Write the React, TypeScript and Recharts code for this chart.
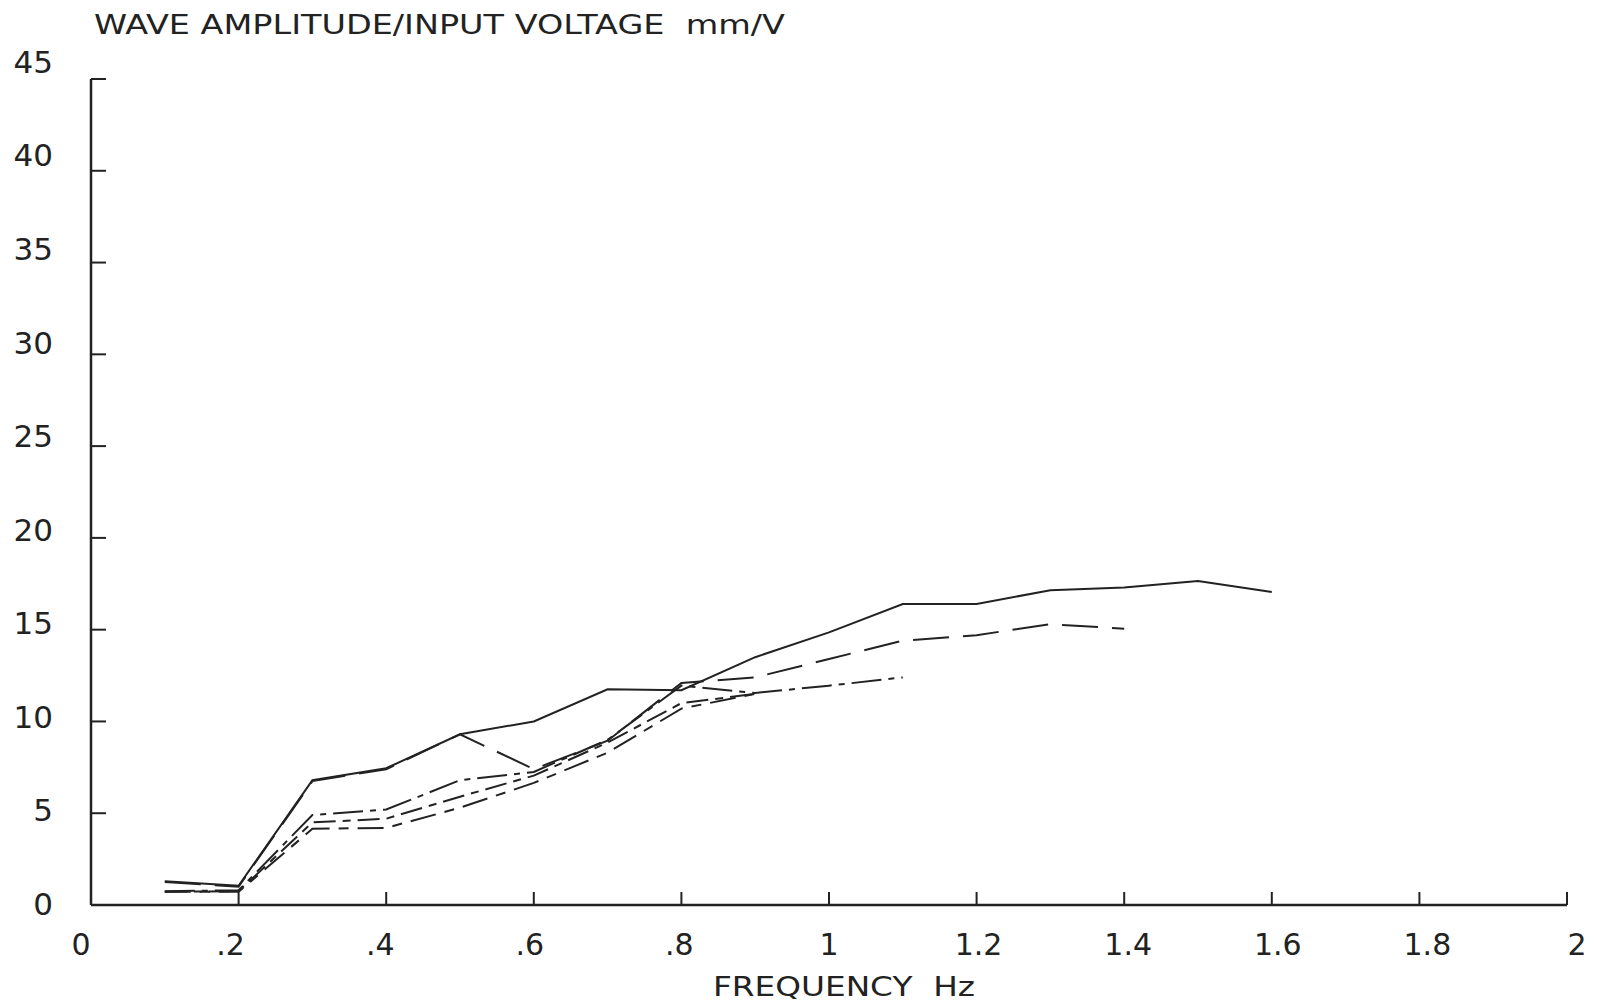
import React from "react";
import { LineChart, Line, XAxis, YAxis } from "recharts";

// Frequency (Hz) sample points
const freqSolid = [0.1, 0.2, 0.3, 0.4, 0.5, 0.6, 0.7, 0.8, 0.9, 1.0, 1.1, 1.2, 1.3, 1.4, 1.5, 1.6];
const ampSolid = [1.3, 1.05, 6.8, 7.45, 9.3, 10.0, 11.75, 11.7, 13.5, 14.85, 16.4, 16.4, 17.15, 17.3, 17.65, 17.05];

const freqLongDash = [0.1, 0.2, 0.3, 0.4, 0.5, 0.6, 0.7, 0.8, 0.9, 1.0, 1.1, 1.2, 1.3, 1.4];
const ampLongDash = [1.25, 1.0, 6.75, 7.4, 9.3, 7.4, 8.95, 12.1, 12.4, 13.4, 14.4, 14.7, 15.3, 15.05];

const freqDashDot = [0.1, 0.2, 0.3, 0.4, 0.5, 0.6, 0.7, 0.8, 0.9, 1.0, 1.1];
const ampDashDot = [0.75, 0.8, 4.9, 5.2, 6.8, 7.25, 9.0, 11.95, 11.55, 11.95, 12.4];

const freqMid = [0.1, 0.2, 0.3, 0.4, 0.5, 0.6, 0.7, 0.8, 0.9];
const ampMid = [0.72, 0.75, 4.5, 4.7, 5.9, 7.05, 8.85, 11.0, 11.5];

const freqLow = [0.1, 0.2, 0.3, 0.4, 0.5, 0.6, 0.7, 0.8, 0.9];
const ampLow = [0.72, 0.72, 4.15, 4.2, 5.3, 6.65, 8.3, 10.7, 11.5];

const xTicks = [0, 0.2, 0.4, 0.6, 0.8, 1.0, 1.2, 1.4, 1.6, 1.8, 2.0];
const xTickLabels = ["0", ".2", ".4", ".6", ".8", "1", "1.2", "1.4", "1.6", "1.8", "2"];
const yTicks = [0, 5, 10, 15, 20, 25, 30, 35, 40, 45];
const yTickLabels = ["0", "5", "10", "15", "20", "25", "30", "35", "40", "45"];

const yTitle = "WAVE AMPLITUDE/INPUT VOLTAGE  mm/V";
const xTitle = "FREQUENCY  Hz";

const toRows = (xs: number[], ys: number[]) => xs.map((f, i) => ({ f, v: ys[i] }));

const INK = "#222";
const FONT = "'DejaVu Sans', 'Liberation Sans', sans-serif";

const XTick = (props: any) => {
  const { x, y, payload } = props;
  const v = payload.value as number;
  const idx = xTicks.findIndex((t) => Math.abs(t - v) < 1e-9);
  const label = idx >= 0 ? xTickLabels[idx] : String(v);
  return (
    <g>
      {v !== 0 && <line x1={x} y1={y} x2={x} y2={y - 13} stroke={INK} strokeWidth={2} />}
      <text x={x + (v - 1) * 10} y={y + 50} textAnchor="middle" fontFamily={FONT} fontSize={30} fill={INK}>
        {label}
      </text>
    </g>
  );
};

const YTick = (props: any) => {
  const { x, y, payload } = props;
  const v = payload.value as number;
  const idx = yTicks.findIndex((t) => Math.abs(t - v) < 1e-9);
  const label = idx >= 0 ? yTickLabels[idx] : String(v);
  return (
    <g>
      {v !== 0 && <line x1={x} y1={y} x2={x + 15} y2={y} stroke={INK} strokeWidth={2} />}
      <text x={x - 38} y={y + 10 - v * 0.36} textAnchor="end" fontFamily={FONT} fontSize={31} fill={INK}>
        {label}
      </text>
    </g>
  );
};

export default function App() {
  return (
    <div style={{ position: "absolute", left: 0, top: 0, width: 1598, height: 1004, background: "#fff" }}>
      <LineChart width={1598} height={1004} margin={{ top: 79, right: 31, bottom: 0, left: 0 }}>
        <XAxis
          type="number"
          dataKey="f"
          domain={[0, 2]}
          ticks={xTicks}
          interval={0}
          allowDataOverflow
          height={99}
          tickSize={0}
          tickMargin={0}
          tickLine={false}
          axisLine={{ stroke: INK, strokeWidth: 2.5 }}
          tick={<XTick />}
        />
        <YAxis
          type="number"
          domain={[0, 45]}
          ticks={yTicks}
          interval={0}
          allowDataOverflow
          width={91}
          tickSize={0}
          tickMargin={0}
          tickLine={false}
          axisLine={{ stroke: INK, strokeWidth: 2.5 }}
          tick={<YTick />}
        />
        <Line data={toRows(freqSolid, ampSolid)} dataKey="v" type="linear" stroke={INK} strokeWidth={2} dot={false} isAnimationActive={false} />
        <Line data={toRows(freqLongDash, ampLongDash)} dataKey="v" type="linear" stroke={INK} strokeWidth={2} strokeDasharray="36 14" dot={false} isAnimationActive={false} />
        <Line data={toRows(freqDashDot, ampDashDot)} dataKey="v" type="linear" stroke={INK} strokeWidth={2} strokeDasharray="30 7 6 7" dot={false} isAnimationActive={false} />
        <Line data={toRows(freqMid, ampMid)} dataKey="v" type="linear" stroke={INK} strokeWidth={2} strokeDasharray="22 7 8 7" dot={false} isAnimationActive={false} />
        <Line data={toRows(freqLow, ampLow)} dataKey="v" type="linear" stroke={INK} strokeWidth={2} strokeDasharray="26 9 10 9" dot={false} isAnimationActive={false} />
      </LineChart>
      <svg width={1598} height={1004} style={{ position: "absolute", left: 0, top: 0, pointerEvents: "none" }}>
        <text x={94} y={34} fontFamily={FONT} fontSize={27} fill={INK} textLength={691} lengthAdjust="spacingAndGlyphs" style={{ whiteSpace: "pre" }}>
          {yTitle}
        </text>
        <text x={713} y={996} fontFamily={FONT} fontSize={27} fill={INK} textLength={262} lengthAdjust="spacingAndGlyphs" style={{ whiteSpace: "pre" }}>
          {xTitle}
        </text>
      </svg>
    </div>
  );
}
